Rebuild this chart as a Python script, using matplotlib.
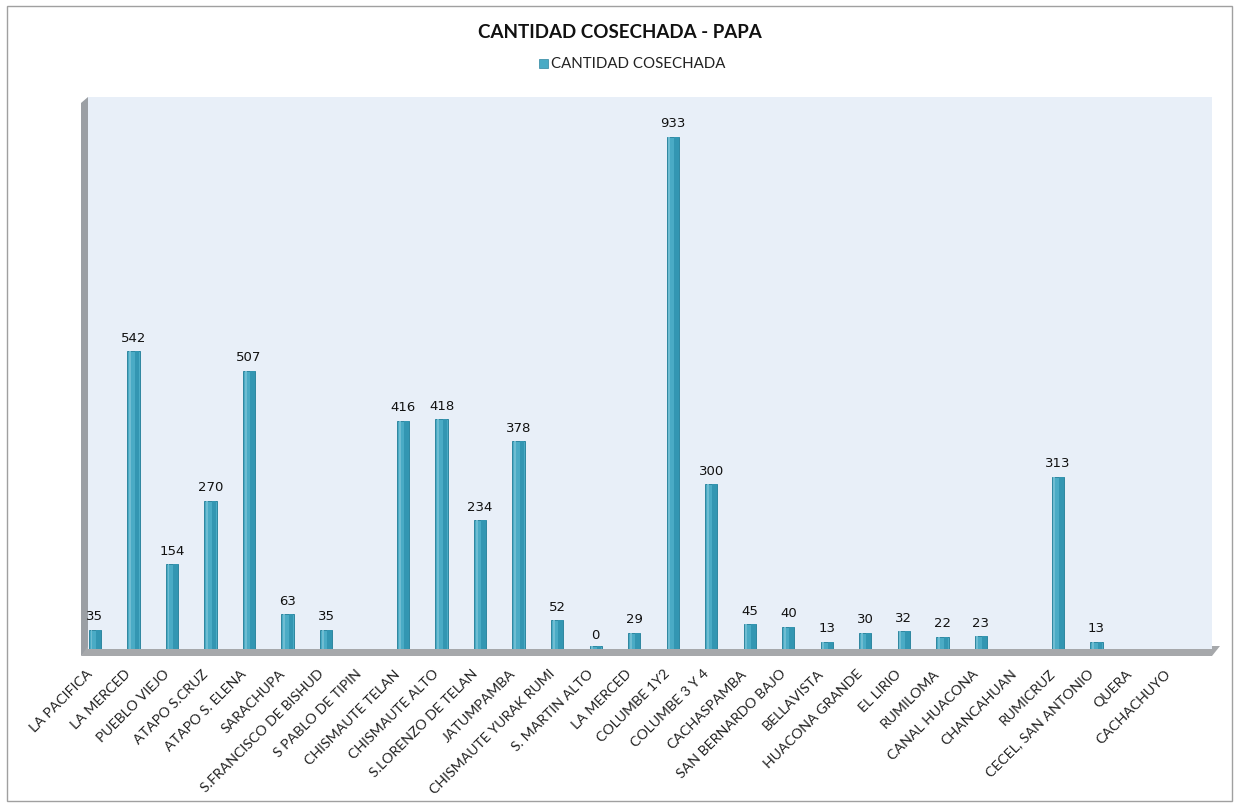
import matplotlib.pyplot as plt
import matplotlib.transforms as mtransforms
from matplotlib.patches import Polygon, Rectangle

comunidades = ["LA PACIFICA", "LA MERCED", "PUEBLO VIEJO", "ATAPO S.CRUZ", "ATAPO S. ELENA",
               "SARACHUPA", "S.FRANCISCO DE BISHUD", "S PABLO DE TIPIN", "CHISMAUTE TELAN",
               "CHISMAUTE ALTO", "S.LORENZO DE TELAN", "JATUMPAMBA", "CHISMAUTE YURAK RUMI",
               "S. MARTIN ALTO", "LA MERCED", "COLUMBE 1Y2", "COLUMBE 3 Y 4", "CACHASPAMBA",
               "SAN BERNARDO BAJO", "BELLAVISTA", "HUACONA GRANDE", "EL LIRIO", "RUMILOMA",
               "CANAL HUACONA", "CHANCAHUAN", "RUMICRUZ", "CECEL, SAN ANTONIO", "QUERA",
               "CACHACHUYO"]
# None = sin dato
cantidad = [35, 542, 154, 270, 507, 63, 35, None, 416, 418, 234, 378, 52, 0, 29, 933,
            300, 45, 40, 13, 30, 32, 22, 23, None, 313, 13, None, None]

W, H = 1240, 804
fig = plt.figure(figsize=(W / 100, H / 100), dpi=100)
fig.patch.set_facecolor('white')

# marco exterior
fig.add_artist(Rectangle((7 / W, 1 - 802 / H), 1225 / W, 795 / H, transform=fig.transFigure,
                         fill=False, edgecolor='#a0a0a0', linewidth=1))

ax = fig.add_axes([88 / W, 1 - 650 / H, 1124 / W, 552 / H])
ax.set_facecolor('#e8eff8')
for s in ax.spines.values():
    s.set_visible(False)

# pared izquierda y piso (efecto 3D)
fig.add_artist(Polygon([(81 / W, 1 - 104 / H), (88 / W, 1 - 98 / H), (88 / W, 1 - 650 / H),
                        (81 / W, 1 - 657 / H)], closed=True, transform=fig.transFigure,
                       facecolor='#9b9fa4', edgecolor='none', zorder=-1))
fig.add_artist(Polygon([(81 / W, 1 - 657 / H), (88 / W, 1 - 647 / H), (1220 / W, 1 - 647 / H),
                        (1212 / W, 1 - 657 / H)], closed=True, transform=fig.transFigure,
                       facecolor='#a6a8ab', edgecolor='none', zorder=-1))

xs = list(range(len(comunidades)))
ax.set_xlim(-0.18, 29.0)
ax.set_ylim(0, 1005)

for i, v in enumerate(cantidad):
    if v is None:
        continue
    h = max(v, 5)
    ax.bar(i, h, width=0.32, color='#4aabc5', edgecolor='#2e86a0', linewidth=0.7, zorder=3)
    ax.bar(i + 0.09, h, width=0.12, color='#3396b2', linewidth=0, zorder=4)
    ax.bar(i - 0.09, h, width=0.05, color='#6fbdd2', linewidth=0, zorder=4)
    ax.text(i, v + 14, str(v), ha='center', va='bottom', fontsize=9.5,
            family='DejaVu Sans', color='#111111', zorder=5)

ax.set_yticks([])
ax.set_xticks(xs)
ax.set_xticklabels(comunidades, rotation=45, ha='right', va='top', rotation_mode='anchor',
                   fontsize=10.2, family='Lato', color='#222222')
ax.tick_params(axis='x', length=0, pad=12)
shift = mtransforms.ScaledTranslation(-0.09, -0.01, fig.dpi_scale_trans)
for lab in ax.get_xticklabels():
    lab.set_transform(lab.get_transform() + shift)

fig.text(0.5, 1 - 32 / H, 'CANTIDAD COSECHADA - PAPA', ha='center', va='center',
         fontsize=13.5, fontweight='bold', family='Lato', color='#111111')
fig.add_artist(Rectangle((539 / W, 1 - 69 / H), 9 / W, 9 / H, transform=fig.transFigure,
                         facecolor='#4aabc5', edgecolor='#2e86a0', linewidth=0.5))
fig.text(551 / W, 1 - 64 / H, 'CANTIDAD COSECHADA', ha='left', va='center',
         fontsize=10.8, family='Lato', color='#222222')

fig.savefig('out.png', dpi=100)
